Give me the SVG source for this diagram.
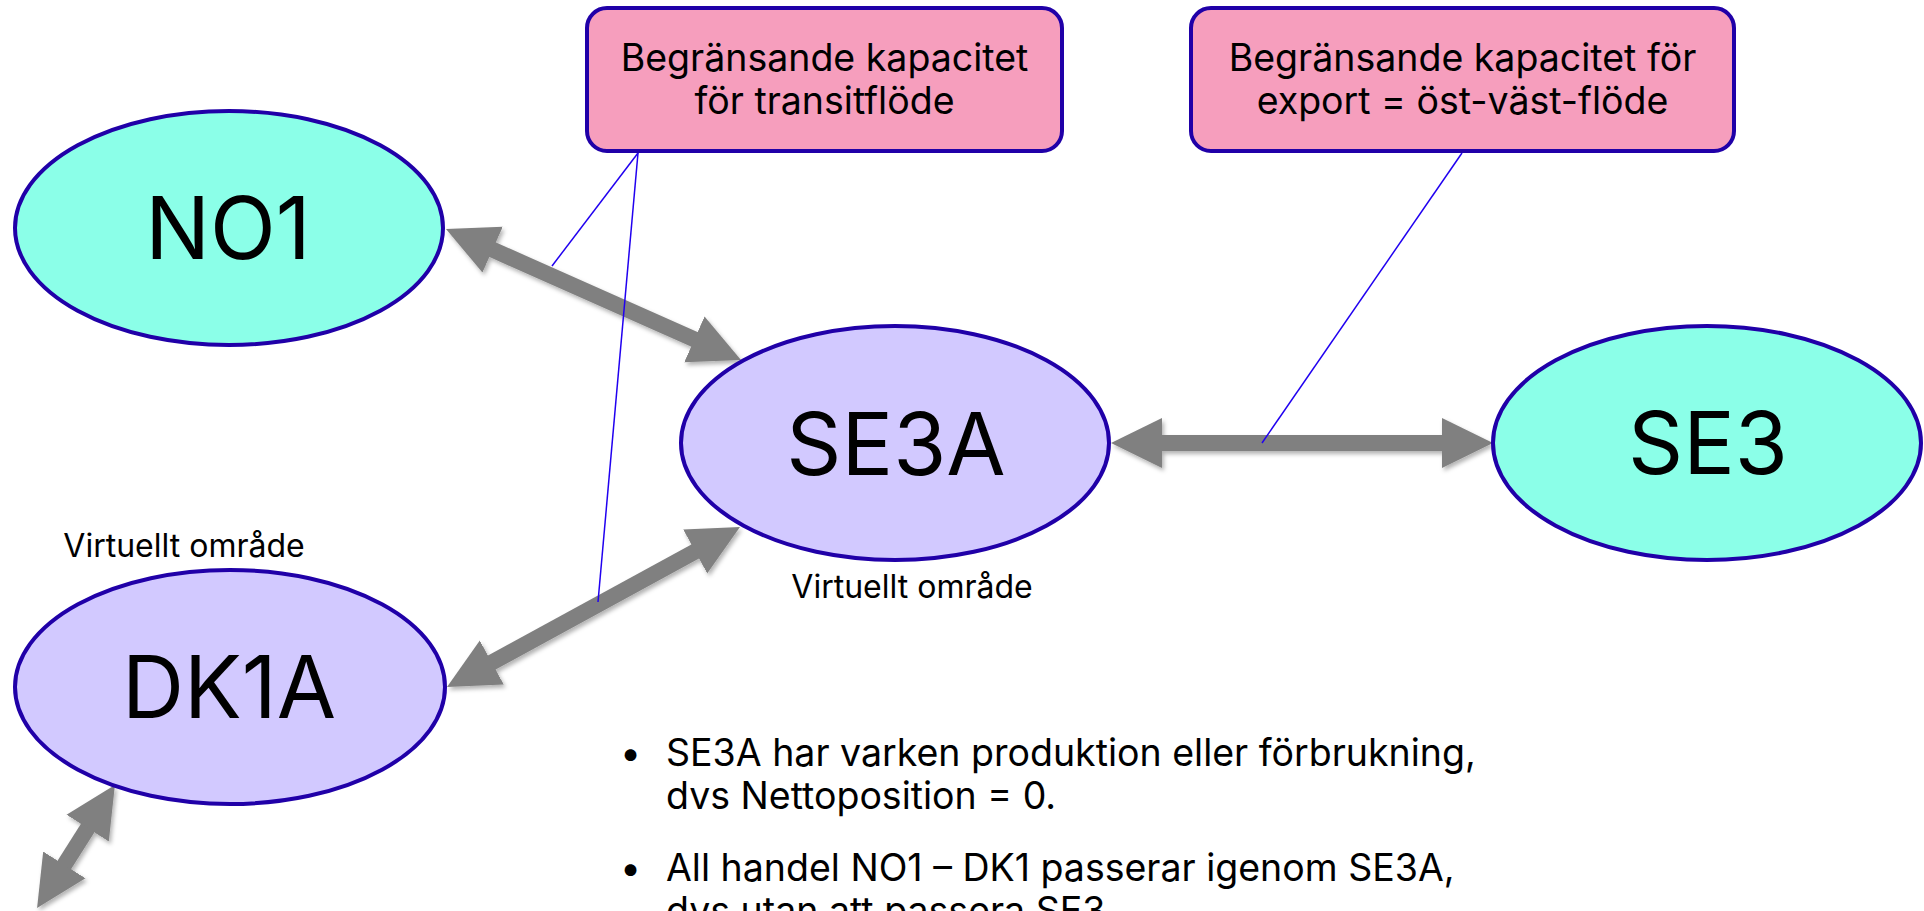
<svg xmlns="http://www.w3.org/2000/svg" width="1924" height="911" viewBox="0 0 1924 911">
<style>
  .txt { font-family: Inter, "Liberation Sans", sans-serif; fill: #000; }
  .big { font-size: 86px; text-anchor: middle; }
  .box { fill: #F69EBD; stroke: #2000A8; stroke-width: 4; }
  .box-t { font-size: 37.5px; text-anchor: middle; }
  .ell { stroke: #2000A8; stroke-width: 4; }
  .real { fill: #8BFFE8; }
  .virt { fill: #D2C9FF; }
  .lbl { font-size: 32px; text-anchor: middle; }
  .shaft { stroke: #808080; stroke-width: 16; fill: none; }
  .callout { stroke: #2000F0; stroke-width: 1.5; fill: none; }
  .body { font-size: 37.5px; }
</style>
<defs>
  <marker id="head" markerUnits="userSpaceOnUse" markerWidth="52" markerHeight="52" refX="1" refY="25" orient="auto-start-reverse" viewBox="0 0 52 50">
    <path d="M0,0 L51,25 L0,50 z" fill="#808080"/>
  </marker>
  <filter id="shadow" x="-10%" y="-10%" width="130%" height="130%">
    <feDropShadow dx="2" dy="3" stdDeviation="2" flood-color="#000" flood-opacity="0.3"/>
  </filter>
</defs>
<rect width="1924" height="911" fill="#fff"/>

<g id="connectors" filter="url(#shadow)">
  <line class="shaft" x1="491.7" y1="249.3" x2="695.3" y2="339.7" marker-start="url(#head)" marker-end="url(#head)"/>
  <line class="shaft" x1="490.9" y1="663" x2="696.1" y2="551" marker-start="url(#head)" marker-end="url(#head)"/>
  <line class="shaft" x1="1161" y1="443" x2="1443" y2="443" marker-start="url(#head)" marker-end="url(#head)"/>
  <line class="shaft" x1="88.2" y1="827.2" x2="63.8" y2="865.8" marker-start="url(#head)" marker-end="url(#head)"/>
</g>

<g id="node-NO1">
  <ellipse class="ell real" cx="229" cy="228" rx="214" ry="117"/>
  <text class="txt big" x="228" y="259">NO1</text>
</g>
<g id="node-SE3A">
  <ellipse class="ell virt" cx="895" cy="443" rx="214" ry="117"/>
  <text class="txt big" x="896" y="475">SE3A</text>
  <text class="txt lbl" x="912" y="598">Virtuellt område</text>
</g>
<g id="node-SE3">
  <ellipse class="ell real" cx="1707" cy="443" rx="214" ry="117"/>
  <text class="txt big" x="1708" y="474">SE3</text>
</g>
<g id="node-DK1A">
  <ellipse class="ell virt" cx="230" cy="687" rx="215" ry="117"/>
  <text class="txt big" x="229" y="718">DK1A</text>
  <text class="txt lbl" x="184" y="557">Virtuellt område</text>
</g>

<g id="callout-lines">
  <line class="callout" x1="638" y1="153" x2="552" y2="266"/>
  <line class="callout" x1="638" y1="153" x2="598" y2="602"/>
  <line class="callout" x1="1462" y1="153" x2="1262" y2="443"/>
</g>

<g id="box-transit">
  <rect class="box" x="587" y="8" width="475" height="143" rx="20"/>
  <text class="txt box-t" x="824.5" y="71">Begränsande kapacitet</text>
  <text class="txt box-t" x="824.5" y="114">för transitflöde</text>
</g>
<g id="box-export">
  <rect class="box" x="1191" y="8" width="543" height="143" rx="20"/>
  <text class="txt box-t" x="1462.5" y="71">Begränsande kapacitet för</text>
  <text class="txt box-t" x="1462.5" y="114">export = öst-väst-flöde</text>
</g>

<g id="notes">
  <text class="txt body" x="620" y="766">•</text>
  <text class="txt body" x="666" y="766">SE3A har varken produktion eller förbrukning,</text>
  <text class="txt body" x="666" y="809">dvs Nettoposition = 0.</text>
  <text class="txt body" x="620" y="881">•</text>
  <text class="txt body" x="666" y="881">All handel NO1 – DK1 passerar igenom SE3A,</text>
  <text class="txt body" x="666" y="924">dvs utan att passera SE3</text>
</g>
</svg>
